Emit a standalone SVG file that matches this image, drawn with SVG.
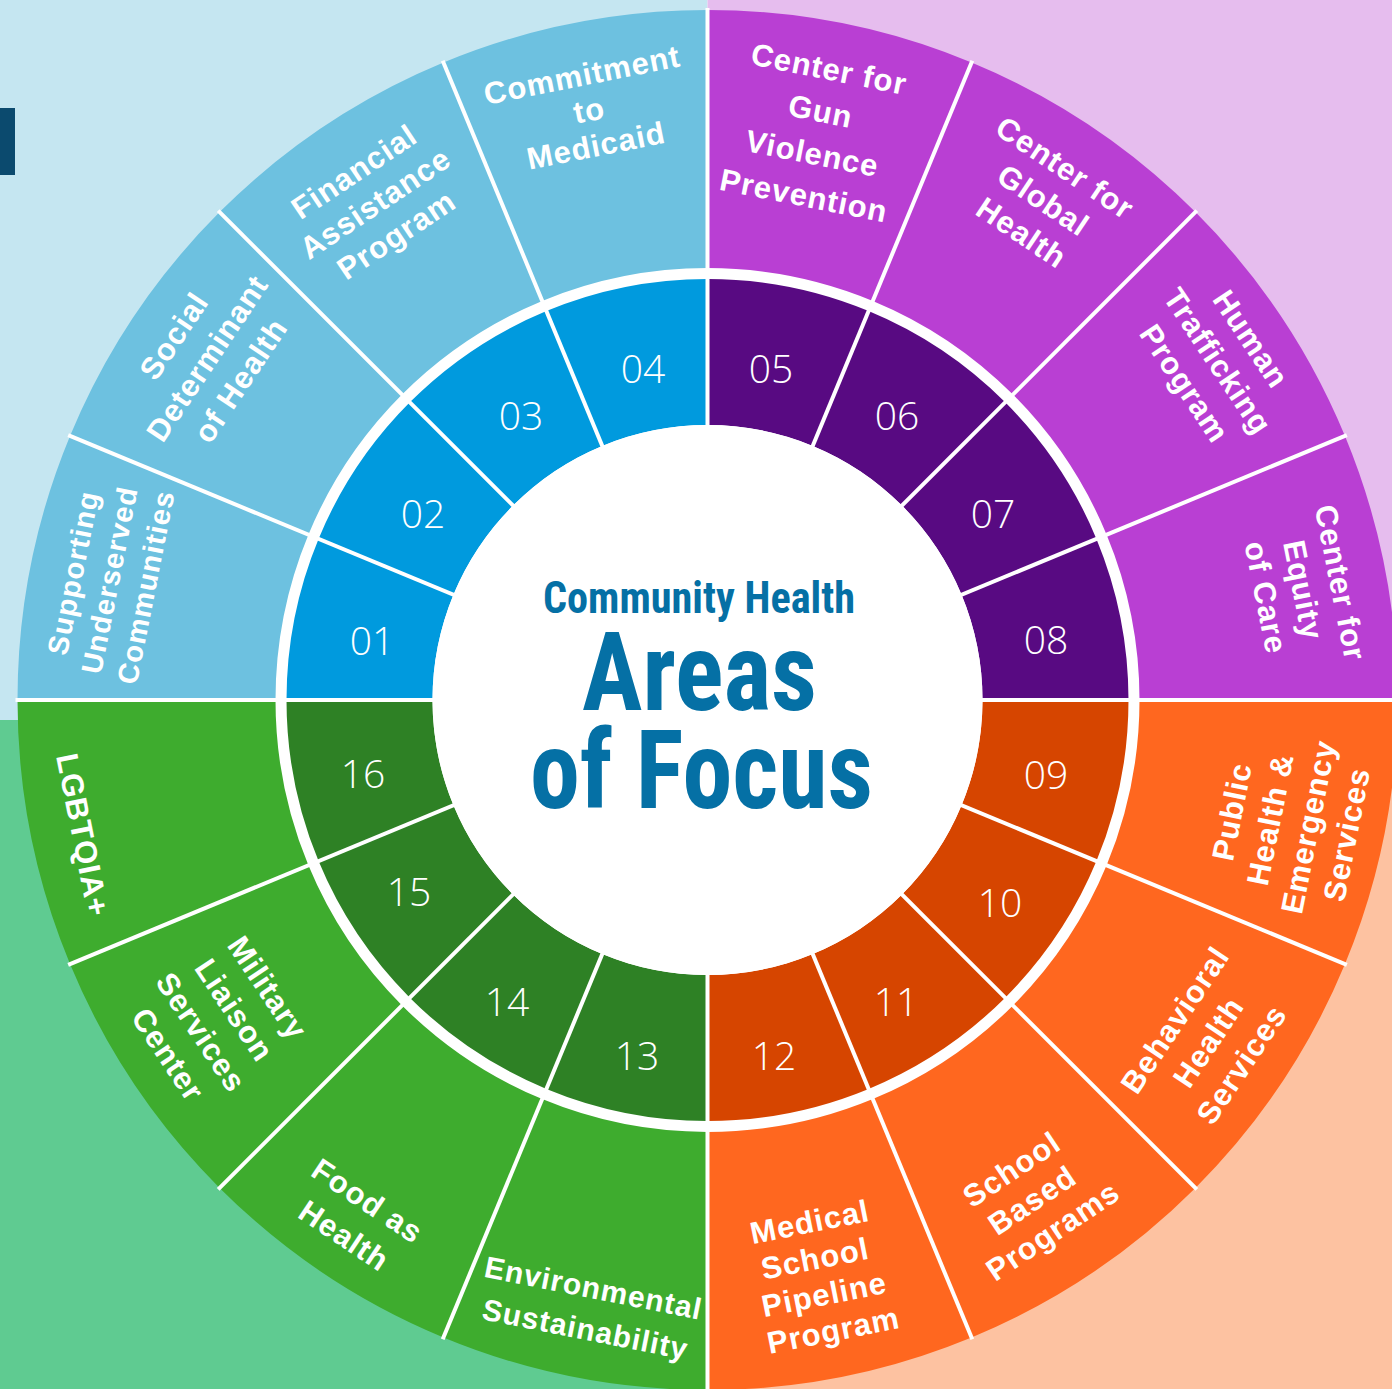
<svg xmlns="http://www.w3.org/2000/svg" width="1392" height="1389" viewBox="0 0 1392 1389">
<style>
.ob{fill:#6dc1e0}.ib{fill:#009ade}
.op{fill:#b93fd3}.ip{fill:#580a82}
.oo{fill:#ff671f}.io{fill:#d64500}
.og{fill:#3eac2e}.ig{fill:#2e8125}
.lbl{font-family:"Liberation Sans",Arial,sans-serif;font-weight:700;font-size:31px;fill:#fff;letter-spacing:1px;text-anchor:middle}
.thin{font-size:29px;letter-spacing:1.2px}
.num{font-family:"Open Sans","Liberation Sans",sans-serif;font-weight:300;font-size:39px;fill:#fff;text-anchor:middle}
.sep{stroke:#fff;stroke-width:4}
.ttl{font-family:"Roboto Condensed","Liberation Sans Narrow","Liberation Sans",sans-serif;font-weight:700;fill:#0570a5;text-anchor:middle}
</style>
<g id="background">
<rect x="0" y="0" width="707.5" height="720" fill="#c5e6f1"/>
<rect x="707.5" y="0" width="684.5" height="720" fill="#e6bdee"/>
<rect x="0" y="720" width="707.5" height="669" fill="#5fcb91"/>
<rect x="707.5" y="720" width="684.5" height="669" fill="#fdc2a1"/>
<rect x="0" y="108" width="15" height="67" fill="#0b4a6e"/>
<circle cx="707.5" cy="700" r="433" fill="#fff"/>
</g>
<g id="seg01" transform="translate(707.5 700)">
<path class="ob" d="M-690,0 A690,690 0 0 1 -637.48,-264.05 L-399.12,-165.32 A432,432 0 0 0 -432,0 Z"/>
<path class="ib" d="M-421,0 A421,421 0 0 1 -388.95,-161.11 L-254.07,-105.24 A275,275 0 0 0 -275,0 Z"/>
<text class="num" x="-335.5" y="-45">01</text>
<text class="lbl thin" transform="translate(-598 -120) rotate(-78.75)"><tspan x="0" y="-27">Supporting</tspan><tspan x="0" y="10">Underserved</tspan><tspan x="0" y="47">Communities</tspan></text>
</g>
<g id="seg02" transform="translate(707.5 700)">
<path class="ob" d="M-637.48,-264.05 A690,690 0 0 1 -487.91,-487.91 L-305.47,-305.47 A432,432 0 0 0 -399.12,-165.32 Z"/>
<path class="ib" d="M-388.95,-161.11 A421,421 0 0 1 -297.69,-297.69 L-194.46,-194.46 A275,275 0 0 0 -254.07,-105.24 Z"/>
<text class="num" x="-284.5" y="-172">02</text>
<text class="lbl" transform="translate(-500.5 -342) rotate(-56.25)"><tspan x="0" y="-29">Social</tspan><tspan x="0" y="11">Determinant</tspan><tspan x="0" y="51">of Health</tspan></text>
</g>
<g id="seg03" transform="translate(707.5 700)">
<path class="ob" d="M-487.91,-487.91 A690,690 0 0 1 -264.05,-637.48 L-165.32,-399.12 A432,432 0 0 0 -305.47,-305.47 Z"/>
<path class="ib" d="M-297.69,-297.69 A421,421 0 0 1 -161.11,-388.95 L-105.24,-254.07 A275,275 0 0 0 -194.46,-194.46 Z"/>
<text class="num" x="-186.5" y="-270">03</text>
<text class="lbl" transform="translate(-332.5 -497) rotate(-33.75)"><tspan x="0" y="-27">Financial</tspan><tspan x="0" y="11">Assistance</tspan><tspan x="0" y="49">Program</tspan></text>
</g>
<g id="seg04" transform="translate(707.5 700)">
<path class="ob" d="M-264.05,-637.48 A690,690 0 0 1 0,-690 L0,-432 A432,432 0 0 0 -165.32,-399.12 Z"/>
<path class="ib" d="M-161.11,-388.95 A421,421 0 0 1 0,-421 L0,-275 A275,275 0 0 0 -105.24,-254.07 Z"/>
<text class="num" x="-64.5" y="-317">04</text>
<text class="lbl" transform="translate(-118.5 -590) rotate(-11.25)"><tspan x="0" y="-25">Commitment</tspan><tspan x="0" y="11">to</tspan><tspan x="0" y="47">Medicaid</tspan></text>
</g>
<g id="seg05" transform="translate(707.5 700)">
<path class="op" d="M0,-690 A690,690 0 0 1 264.05,-637.48 L165.32,-399.12 A432,432 0 0 0 0,-432 Z"/>
<path class="ip" d="M0,-421 A421,421 0 0 1 161.11,-388.95 L105.24,-254.07 A275,275 0 0 0 0,-275 Z"/>
<text class="num" x="63.5" y="-317">05</text>
<text class="lbl" transform="translate(109 -568) rotate(11.25)"><tspan x="0" y="-53.5">Center for</tspan><tspan x="0" y="-10.5">Gun</tspan><tspan x="0" y="32.5">Violence</tspan><tspan x="0" y="75.5">Prevention</tspan></text>
</g>
<g id="seg06" transform="translate(707.5 700)">
<path class="op" d="M264.05,-637.48 A690,690 0 0 1 487.91,-487.91 L305.47,-305.47 A432,432 0 0 0 165.32,-399.12 Z"/>
<path class="ip" d="M161.11,-388.95 A421,421 0 0 1 297.69,-297.69 L194.46,-194.46 A275,275 0 0 0 105.24,-254.07 Z"/>
<text class="num" x="189.5" y="-270">06</text>
<text class="lbl" transform="translate(336 -500) rotate(33.75)"><tspan x="0" y="-28">Center for</tspan><tspan x="0" y="11">Global</tspan><tspan x="0" y="50">Health</tspan></text>
</g>
<g id="seg07" transform="translate(707.5 700)">
<path class="op" d="M487.91,-487.91 A690,690 0 0 1 637.48,-264.05 L399.12,-165.32 A432,432 0 0 0 305.47,-305.47 Z"/>
<path class="ip" d="M297.69,-297.69 A421,421 0 0 1 388.95,-161.11 L254.07,-105.24 A275,275 0 0 0 194.46,-194.46 Z"/>
<text class="num" x="285.5" y="-172">07</text>
<text class="lbl" transform="translate(510.5 -339) rotate(56.25)"><tspan x="0" y="-29">Human</tspan><tspan x="0" y="11">Trafficking</tspan><tspan x="0" y="51">Program</tspan></text>
</g>
<g id="seg08" transform="translate(707.5 700)">
<path class="op" d="M637.48,-264.05 A690,690 0 0 1 690,0 L432,0 A432,432 0 0 0 399.12,-165.32 Z"/>
<path class="ip" d="M388.95,-161.11 A421,421 0 0 1 421,0 L275,0 A275,275 0 0 0 254.07,-105.24 Z"/>
<text class="num" x="338.5" y="-46">08</text>
<text class="lbl" transform="translate(596 -110) rotate(78.75)"><tspan x="0" y="-27">Center for</tspan><tspan x="0" y="11">Equity</tspan><tspan x="0" y="49">of Care</tspan></text>
</g>
<g id="seg09" transform="translate(707.5 700)">
<path class="oo" d="M690,0 A690,690 0 0 1 637.48,264.05 L399.12,165.32 A432,432 0 0 0 432,0 Z"/>
<path class="io" d="M421,0 A421,421 0 0 1 388.95,161.11 L254.07,105.24 A275,275 0 0 0 275,0 Z"/>
<text class="num" x="338.5" y="89">09</text>
<text class="lbl" transform="translate(581.5 123) rotate(-78.75)"><tspan x="0" y="-47.5">Public</tspan><tspan x="0" y="-8.5">Health &amp;</tspan><tspan x="0" y="30.5">Emergency</tspan><tspan x="0" y="69.5">Services</tspan></text>
</g>
<g id="seg10" transform="translate(707.5 700)">
<path class="oo" d="M637.48,264.05 A690,690 0 0 1 487.91,487.91 L305.47,305.47 A432,432 0 0 0 399.12,165.32 Z"/>
<path class="io" d="M388.95,161.11 A421,421 0 0 1 297.69,297.69 L194.46,194.46 A275,275 0 0 0 254.07,105.24 Z"/>
<text class="num" x="292.5" y="217">10</text>
<text class="lbl" transform="translate(500.5 342) rotate(-56.25)"><tspan x="0" y="-29">Behavioral</tspan><tspan x="0" y="11">Health</tspan><tspan x="0" y="51">Services</tspan></text>
</g>
<g id="seg11" transform="translate(707.5 700)">
<path class="oo" d="M487.91,487.91 A690,690 0 0 1 264.05,637.48 L165.32,399.12 A432,432 0 0 0 305.47,305.47 Z"/>
<path class="io" d="M297.69,297.69 A421,421 0 0 1 161.11,388.95 L105.24,254.07 A275,275 0 0 0 194.46,194.46 Z"/>
<text class="num" x="188.5" y="316">11</text>
<text class="lbl" transform="translate(324.5 500) rotate(-33.75)"><tspan x="0" y="-26">School</tspan><tspan x="0" y="11">Based</tspan><tspan x="0" y="48">Programs</tspan></text>
</g>
<g id="seg12" transform="translate(707.5 700)">
<path class="oo" d="M264.05,637.48 A690,690 0 0 1 0,690 L0,432 A432,432 0 0 0 165.32,399.12 Z"/>
<path class="io" d="M161.11,388.95 A421,421 0 0 1 0,421 L0,275 A275,275 0 0 0 105.24,254.07 Z"/>
<text class="num" x="66.5" y="370">12</text>
<text class="lbl" transform="translate(113 576) rotate(-11.25)"><tspan x="0" y="-44.5">Medical</tspan><tspan x="-2" y="-7.5">School</tspan><tspan x="0" y="29.5">Pipeline</tspan><tspan x="2" y="66.5">Program</tspan></text>
</g>
<g id="seg13" transform="translate(707.5 700)">
<path class="og" d="M0,690 A690,690 0 0 1 -264.05,637.48 L-165.32,399.12 A432,432 0 0 0 0,432 Z"/>
<path class="ig" d="M0,421 A421,421 0 0 1 -161.11,388.95 L-105.24,254.07 A275,275 0 0 0 0,275 Z"/>
<text class="num" x="-70.5" y="370">13</text>
<text class="lbl" transform="translate(-118 608) rotate(11.25)" style="font-size:30px"><tspan x="0" y="-10">Environmental</tspan><tspan x="0" y="32">Sustainability</tspan></text>
</g>
<g id="seg14" transform="translate(707.5 700)">
<path class="og" d="M-264.05,637.48 A690,690 0 0 1 -487.91,487.91 L-305.47,305.47 A432,432 0 0 0 -165.32,399.12 Z"/>
<path class="ig" d="M-161.11,388.95 A421,421 0 0 1 -297.69,297.69 L-194.46,194.46 A275,275 0 0 0 -105.24,254.07 Z"/>
<text class="num" x="-200.5" y="316">14</text>
<text class="lbl" transform="translate(-351.5 518) rotate(33.75)"><tspan x="0" y="-10">Food as</tspan><tspan x="0" y="32">Health</tspan></text>
</g>
<g id="seg15" transform="translate(707.5 700)">
<path class="og" d="M-487.91,487.91 A690,690 0 0 1 -637.48,264.05 L-399.12,165.32 A432,432 0 0 0 -305.47,305.47 Z"/>
<path class="ig" d="M-297.69,297.69 A421,421 0 0 1 -388.95,161.11 L-254.07,105.24 A275,275 0 0 0 -194.46,194.46 Z"/>
<text class="num" x="-298.5" y="206">15</text>
<text class="lbl" transform="translate(-489.5 321) rotate(56.25)"><tspan x="0" y="-49">Military</tspan><tspan x="0" y="-9">Liaison</tspan><tspan x="0" y="31">Services</tspan><tspan x="0" y="71">Center</tspan></text>
</g>
<g id="seg16" transform="translate(707.5 700)">
<path class="og" d="M-637.48,264.05 A690,690 0 0 1 -690,0 L-432,0 A432,432 0 0 0 -399.12,165.32 Z"/>
<path class="ig" d="M-388.95,161.11 A421,421 0 0 1 -421,0 L-275,0 A275,275 0 0 0 -254.07,105.24 Z"/>
<text class="num" x="-344.5" y="88">16</text>
<text class="lbl" transform="translate(-624.5 135) rotate(78.75)"><tspan x="0" y="11">LGBTQIA+</tspan></text>
</g>
<g id="separators" transform="translate(707.5 700)">
<line class="sep" x1="-692" y1="0" x2="692" y2="0"/>
<line class="sep" x1="-639.32" y1="-264.81" x2="639.32" y2="264.81"/>
<line class="sep" x1="-489.32" y1="-489.32" x2="489.32" y2="489.32"/>
<line class="sep" x1="-264.81" y1="-639.32" x2="264.81" y2="639.32"/>
<line class="sep" x1="0" y1="-692" x2="0" y2="692"/>
<line class="sep" x1="264.81" y1="-639.32" x2="-264.81" y2="639.32"/>
<line class="sep" x1="489.32" y1="-489.32" x2="-489.32" y2="489.32"/>
<line class="sep" x1="639.32" y1="-264.81" x2="-639.32" y2="264.81"/>
</g>
<g id="center">
<circle cx="707.5" cy="700" r="275" fill="#fff"/>
<text class="ttl" x="699" y="613" font-size="44" textLength="312" lengthAdjust="spacingAndGlyphs">Community Health</text>
<text class="ttl" x="699.5" y="710" font-size="109" textLength="235" lengthAdjust="spacingAndGlyphs">Areas</text>
<text class="ttl" x="701.5" y="808" font-size="109" textLength="343" lengthAdjust="spacingAndGlyphs">of Focus</text>
</g>
</svg>
